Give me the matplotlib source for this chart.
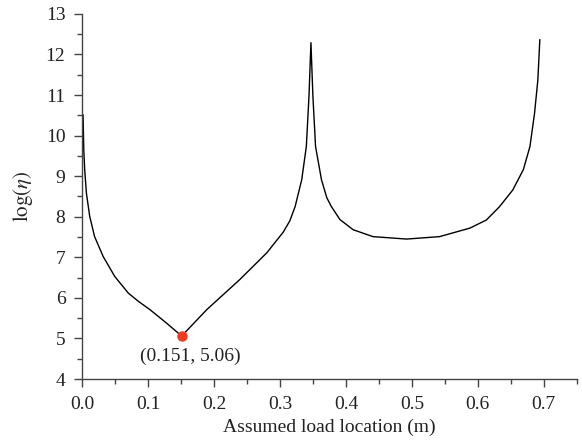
import matplotlib.pyplot as plt
from matplotlib.ticker import MultipleLocator

# === Curve ===
x_vals = [0.0015, 0.0026, 0.004, 0.0066, 0.0116, 0.019, 0.032, 0.0495, 0.070, 0.085,
          0.103, 0.128, 0.151,
          0.189, 0.214, 0.239, 0.280, 0.305, 0.315, 0.323, 0.333, 0.340, 0.344, 0.347,
          0.350, 0.354, 0.363, 0.371, 0.378, 0.391, 0.411, 0.441, 0.492, 0.542,
          0.588, 0.613, 0.633, 0.653, 0.669, 0.679, 0.686, 0.691, 0.694]
y_vals = [10.51, 9.65, 9.16, 8.58, 8.01, 7.51, 7.02, 6.53, 6.12, 5.92,
          5.71, 5.38, 5.06,
          5.71, 6.08, 6.45, 7.11, 7.62, 7.90, 8.25, 8.91, 9.73, 10.96, 12.29,
          10.96, 9.73, 8.91, 8.47, 8.25, 7.93, 7.68, 7.51, 7.45, 7.51,
          7.72, 7.92, 8.25, 8.66, 9.16, 9.73, 10.55, 11.37, 12.36]

min_x, min_y = 0.151, 5.06

plt.rcParams['font.family'] = ['Liberation Serif', 'DejaVu Serif']
plt.rcParams['mathtext.fontset'] = 'stix'

fig = plt.figure(figsize=(5.82, 4.47), dpi=100)
ax = fig.add_axes([0.141, 0.152, 0.850, 0.817])

ax.plot(x_vals, y_vals, color='black', linewidth=1.0)
ax.plot(min_x, min_y, 'o', color='#ee3b22', markersize=6.5, zorder=3)
ax.annotate("(0.151, 5.06)", (min_x, min_y), xytext=(6, -14.5), textcoords='offset points',
            ha='center', va='center', fontsize=14, color='#222222')

ax.set_xlim(0, 0.75)
ax.set_ylim(4, 13)
ax.xaxis.set_major_locator(MultipleLocator(0.1))
ax.xaxis.set_minor_locator(MultipleLocator(0.05))
ax.yaxis.set_major_locator(MultipleLocator(1))
ax.yaxis.set_minor_locator(MultipleLocator(0.5))
ax.set_xticks([0, 0.1, 0.2, 0.3, 0.4, 0.5, 0.6, 0.7])
ax.set_xticklabels(["0.0", "0.1", "0.2", "0.3", "0.4", "0.5", "0.6", "0.7"])

for s in ['top', 'right']:
    ax.spines[s].set_visible(False)
for s in ['left', 'bottom']:
    ax.spines[s].set_color('#444444')
    ax.spines[s].set_linewidth(1.0)

ax.tick_params(which='major', direction='out', length=6, width=1, color='#444444',
               labelsize=14, labelcolor='#222222', pad=6)
ax.tick_params(which='minor', direction='out', length=3.5, width=1, color='#444444')

ax.set_xlabel("Assumed load location (m)", fontsize=14, color='#222222', labelpad=4)
ax.set_ylabel(r"$\mathrm{log}(\eta)$", fontsize=15, color='#222222', labelpad=8)

plt.savefig("out.png", dpi=100)
